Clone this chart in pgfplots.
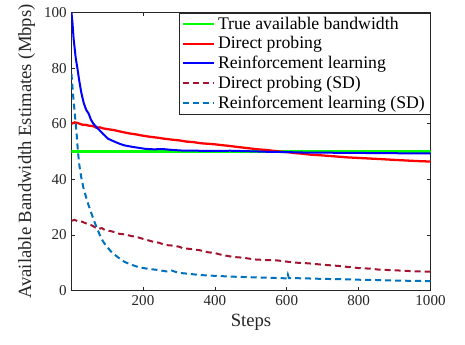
\documentclass[border=0pt]{standalone}
\usepackage{fontspec}
\setmainfont{Liberation Serif}
\usepackage{pgfplots}
\pgfplotsset{compat=1.18}
\definecolor{cgreen}{rgb}{0,1,0}
\definecolor{cred}{rgb}{1,0,0}
\definecolor{cblue}{rgb}{0,0,1}
\definecolor{cdpsd}{rgb}{0.635,0.078,0.184}
\definecolor{crlsd}{rgb}{0,0.447,0.741}
\definecolor{caxis}{rgb}{0.15,0.15,0.15}
\newcommand{\ticksize}{\fontsize{11.3}{13}\selectfont}
\newcommand{\labsize}{\fontsize{14}{16}\selectfont}
\newcommand{\legsize}{\fontsize{13.3}{16.3}\selectfont}

\begin{document}
\begin{tikzpicture}
\useasboundingbox (-53.6pt,-40.1pt) rectangle (295.1pt,217.9pt);
\begin{axis}[
  at={(0,0)}, anchor=south west,
  scale only axis, width=269.25pt, height=208.5pt,
  xmin=1, xmax=1000, ymin=0, ymax=100,
  xtick={200,400,600,800,1000}, ytick={0,20,40,60,80,100},
  tick align=inside, major tick length=2.7pt,
  axis line style={caxis, line width=0.5pt},
  tick style={caxis, line width=0.5pt},
  tick label style={font=\ticksize, text=caxis},
  /pgf/number format/assume math mode=true,
  /pgf/number format/set thousands separator={},
  scaled ticks=false,
  xlabel={Steps}, ylabel={Available Bandwidth Estimates (Mbps)},
  label style={font=\labsize, text=caxis},
  legend cell align=left,
  legend style={font=\legsize, draw=caxis, line width=0.5pt, fill=white,
    at={(1,1)}, anchor=north east, inner xsep=2pt, inner ysep=1pt, row sep=0pt},
  legend image code/.code={\draw[#1] (0pt,0pt) -- (23pt,0pt);},
]
\addplot[cgreen, line width=2.2pt] coordinates {(1,50) (1000,50)};
\addlegendentry{True available bandwidth}

\addplot[cred, line width=1.7pt] coordinates {
(1,60.0) (10,60.5) (20,60.2) (30,59.7) (40,59.6) (50,59.3) (60,59.2) (70,58.6) (80,58.7)
(90,58.3) (100,58.1) (120,57.7) (140,57.1) (163,56.5) (180,56.2) (200,55.7) (220,55.3)
(240,55.0) (260,54.6) (280,54.3) (302,54.0) (320,53.6) (340,53.4) (360,53.0) (380,52.8)
(400,52.6) (420,52.3) (442,52.0) (460,51.7) (480,51.4) (500,51.1) (520,50.8) (540,50.6)
(560,50.3) (581,50.0) (600,49.8) (620,49.5) (645,49.2) (665,48.9) (690,48.7) (710,48.5)
(740,48.2) (770,47.9) (800,47.7) (830,47.5) (860,47.3) (900,47.0) (930,46.8) (960,46.6)
(1000,46.4)};
\addlegendentry{Direct probing}

\addplot[cblue, line width=1.5pt] coordinates {
(1,100) (4,96) (7,90.5) (10,87) (13,83.5) (17,80.4) (22,76) (28,71.4) (35,67.5) (42,65)
(49,63.6) (55,61.5) (62,60) (75,58.2) (90,56.2) (103,54.6) (120,53.6) (135,52.8)
(149,52.2) (170,51.7) (190,51.3) (205,51.0) (230,50.8) (255,50.9) (280,50.6) (316,50.3)
(350,50.3) (400,50.2) (442,50.3) (500,50.1) (550,49.9) (600,49.8) (665,49.6) (700,49.6)
(800,49.5) (900,49.4) (1000,49.3)};
\addlegendentry{Reinforcement learning}

\addplot[cdpsd, line width=1.5pt, dash pattern=on 4.5pt off 3pt] coordinates {
(1,25.1) (10,25.4) (20,24.9) (30,24.8) (37,24.4) (45,24.0) (55,23.6) (65,22.9) (75,22.1)
(85,22.5) (95,21.7) (110,21.4) (121,21.0) (135,20.4) (150,20.2) (168,19.6) (185,19.2)
(200,18.6) (214,18.1) (230,17.5) (245,17.2) (260,16.4) (280,16.2) (300,15.8) (311,15.2)
(330,15.0) (358,14.5) (380,13.8) (400,13.5) (420,12.8) (451,12.1) (480,11.8) (510,11.2)
(540,11.0) (570,10.9) (600,10.4) (630,10.0) (660,9.8) (700,9.3) (740,8.9) (770,8.5)
(800,8.1) (830,7.9) (860,7.5) (900,7.3) (930,7.1) (960,6.9) (1000,6.8)};
\addlegendentry{Direct probing (SD)}

\addplot[crlsd, line width=1.5pt, dash pattern=on 4.5pt off 3pt] coordinates {
(1,78) (5,71) (10,64) (15,57) (19,50) (23,45) (28,40.9) (35,36.5) (47,31.3) (55,28.3)
(65,24.7) (75,21.5) (84,18.7) (95,16.5) (112,13.9) (130,12.0) (149,10.3) (170,9.2)
(186,8.5) (210,7.9) (242,7.4) (265,6.9) (280,7.2) (298,6.4) (330,6.0) (358,5.6)
(400,5.3) (450,5.0) (500,4.8) (550,4.6) (600,4.4) (603,5.8) (606,4.5) (650,4.4)
(700,4.2) (750,4.1) (800,3.9) (850,3.8) (900,3.6) (950,3.5) (1000,3.4)};
\addlegendentry{Reinforcement learning (SD)}
\end{axis}
\end{tikzpicture}
\end{document}
